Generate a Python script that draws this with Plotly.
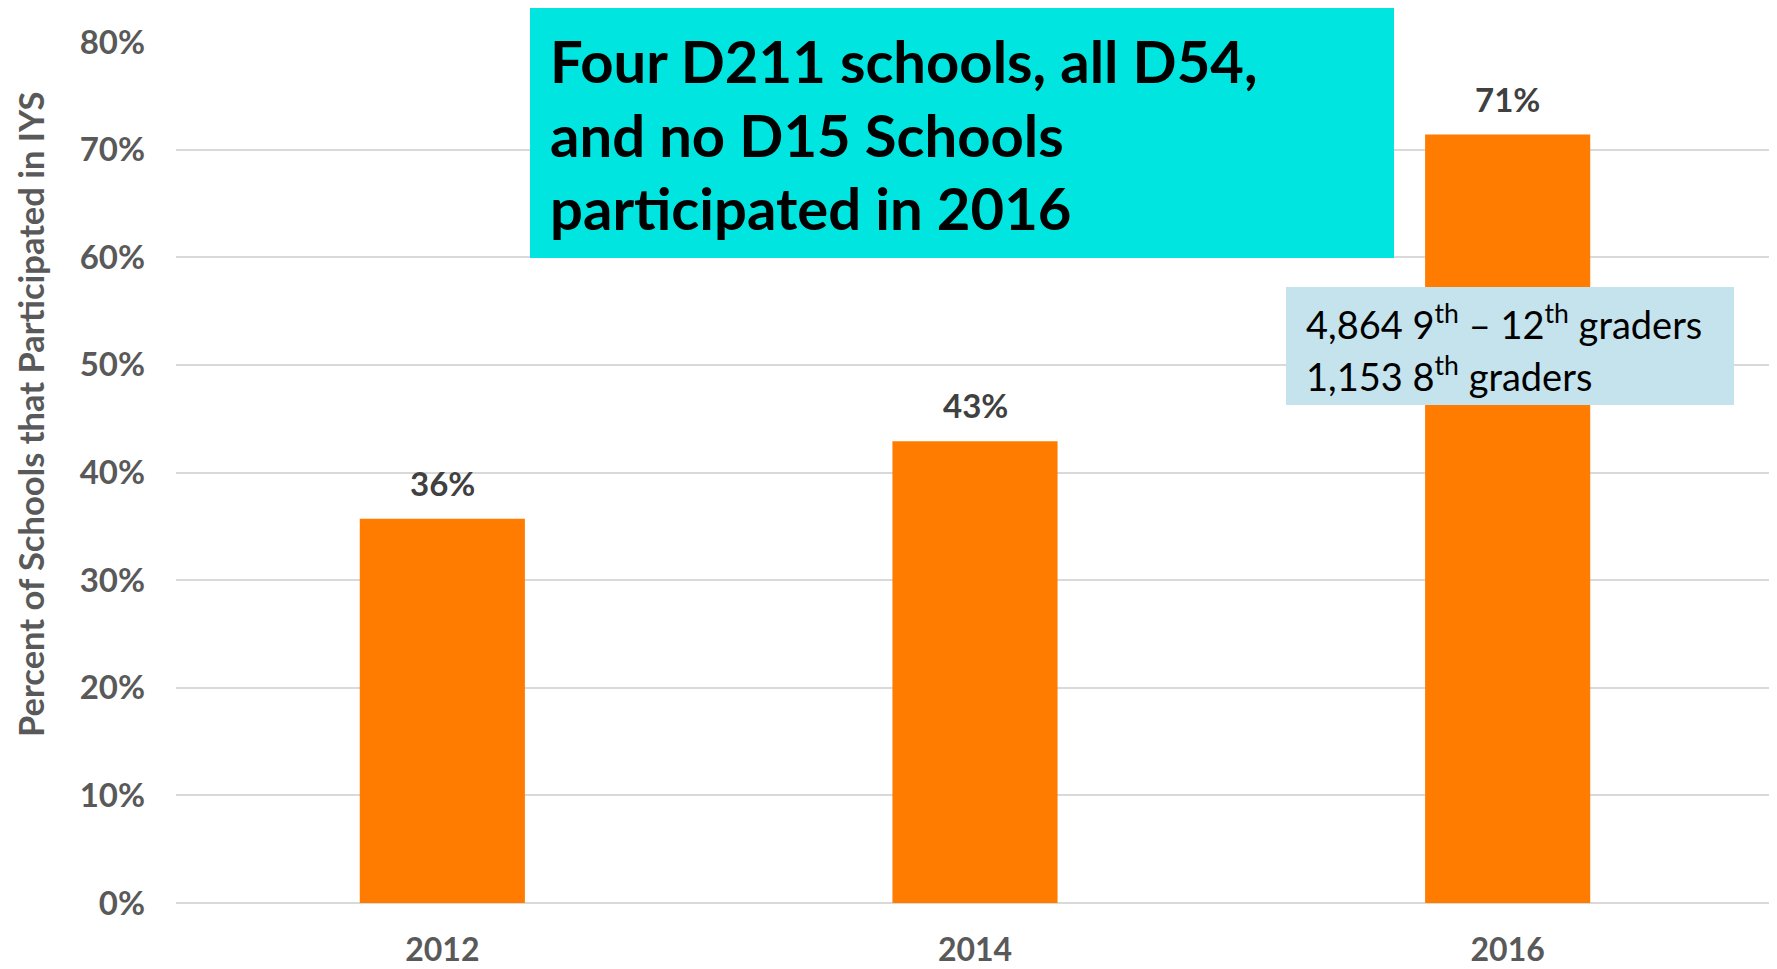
import plotly.graph_objects as go

years = ["2012", "2014", "2016"]
pct = [0.357, 0.429, 0.714]
pct_labels = ["36%", "43%", "71%"]
tick_vals = [0, 0.1, 0.2, 0.3, 0.4, 0.5, 0.6, 0.7, 0.8]
tick_text = ["0%", "10%", "20%", "30%", "40%", "50%", "60%", "70%", "80%"]
callout_lines = ["Four D211 schools, all D54,", "and no D15 Schools", "participated in 2016"]
student_lines = ["4,864 9<sup>th</sup> \u2013 12<sup>th</sup> graders", "1,153 8<sup>th</sup> graders"]

# page has an 8px body margin, so the figure is drawn 8px in from the corner
OFF = 8
W, H = 1777 - OFF, 969 - OFF
L, R, T, B = 176, 1774, 42, 903  # plot area edges in screenshot pixels
FONT = "Lato"
GRAY = "#595959"


def px(x):
    return (x - L) / (R - L)


def py(y):
    return (B - y) / (B - T)


fig = go.Figure()
fig.add_trace(go.Bar(
    x=years, y=pct, width=0.31,
    marker=dict(color="#FF7C00", line=dict(width=0)),
    hoverinfo="skip",
))

# value labels above bars
for i, (v, lab) in enumerate(zip(pct, pct_labels)):
    fig.add_annotation(x=i, y=v, text=lab, showarrow=False, yanchor="bottom", yshift=14,
                       font=dict(family=FONT, size=33, color="#404040", weight="bold"))

# cyan call-out box
fig.add_shape(type="rect", xref="paper", yref="paper", x0=px(530), x1=px(1394), y0=py(258), y1=py(6),
              fillcolor="#00E5E0", line=dict(width=0), layer="above")
for i, line in enumerate(callout_lines):
    fig.add_annotation(xref="paper", yref="paper", x=px(548), y=py(60 + 74 * i), text=line,
                       showarrow=False, xanchor="left", yanchor="middle",
                       font=dict(family=FONT, size=58, color="black", weight="bold"))

# light blue student count box
fig.add_shape(type="rect", xref="paper", yref="paper", x0=px(1286), x1=px(1734), y0=py(405), y1=py(287),
              fillcolor="#C5E3EC", line=dict(width=0), layer="above")
for i, line in enumerate(student_lines):
    fig.add_annotation(xref="paper", yref="paper", x=px(1304), y=py(322 + 52 * i), text=line,
                       showarrow=False, xanchor="left", yanchor="middle",
                       font=dict(family=FONT, size=38, color="black"))

# y axis title
fig.add_annotation(xref="paper", yref="paper", x=px(30), y=py(415), text="Percent of Schools that Participated in IYS",
                   textangle=-90, showarrow=False, xanchor="center", yanchor="middle",
                   font=dict(family=FONT, size=34.5, color=GRAY, weight="bold"))

fig.update_layout(
    width=W, height=H,
    margin=dict(l=L - OFF, r=W - (R - OFF), t=T - OFF, b=H - (B - OFF)),
    plot_bgcolor="white", paper_bgcolor="white",
    showlegend=False,
    font=dict(family=FONT, color=GRAY),
    xaxis=dict(
        type="category", automargin=False,
        showgrid=False, showline=False, zeroline=False, ticks="",
        tickfont=dict(family=FONT, size=32, color=GRAY, weight="bold"),
        ticklabelstandoff=25,
    ),
    yaxis=dict(
        range=[0, 0.8], tickvals=tick_vals, ticktext=tick_text, automargin=False,
        showgrid=True, gridcolor="#D9D9D9", gridwidth=2,
        zeroline=True, zerolinecolor="#D9D9D9", zerolinewidth=2,
        showline=False, ticks="",
        tickfont=dict(family=FONT, size=33, color=GRAY, weight="bold"),
        ticklabelstandoff=30,
    ),
)

fig.write_html("out.html")
